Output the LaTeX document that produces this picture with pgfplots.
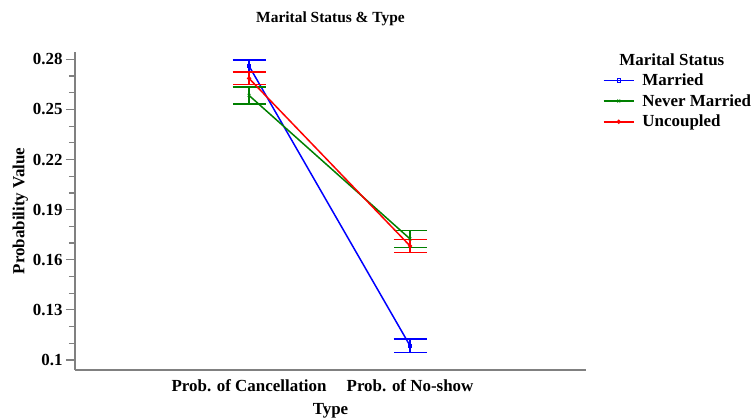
\documentclass[border=0pt]{standalone}
\usepackage{pgfplots}
\pgfplotsset{compat=1.18}
\usepackage{fontspec}
\setmainfont{Liberation Serif}

\definecolor{cBlue}{RGB}{0,0,255}
\definecolor{cGreen}{RGB}{0,128,0}
\definecolor{cRed}{RGB}{255,0,0}
\definecolor{axisgray}{RGB}{128,128,128}

\newcommand{\lab}{\fontsize{17}{20}\selectfont\bfseries}

\begin{document}
\begin{tikzpicture}
\useasboundingbox (0,0) rectangle (756bp,420bp);
\begin{axis}[
  at={(75bp,50bp)}, anchor=south west,
  scale only axis, width=511bp, height=318bp,
  xmin=-1.081, xmax=2.093,
  ymin=0.094, ymax=0.2844,
  axis x line*=bottom, axis y line*=left,
  axis line style={axisgray, line width=1.2bp, -},
  xtick={0,1},
  xticklabels={Prob. of Cancellation, Prob. of No-show},
  x tick style={draw=none},
  ytick={0.1,0.13,0.16,0.19,0.22,0.25,0.28},
  minor y tick num=2,
  y tick style={axisgray, line width=1.2bp},
  tick align=outside,
  major tick length=9bp, minor tick length=6bp,
  yticklabel style={/pgf/number format/fixed, /pgf/number format/precision=2},
  /pgf/number format/assume math mode=true,
  tick label style={font=\lab, text=black},
  xticklabel style={anchor=center, yshift=-7bp},
  ylabel={Probability Value}, xlabel={Type},
  every axis y label/.style={at={(axis description cs:-0.107,0.5)}, rotate=90, anchor=center, font=\lab},
  every axis x label/.style={at={(axis description cs:0.5,-0.128)}, anchor=center, font=\lab},
  title={Marital Status \& Type},
  title style={font=\fontsize{15.5}{18}\selectfont\bfseries, at={(axis description cs:0.5,1)}, anchor=center, yshift=27bp},
  clip=false,
  legend style={at={(axis description cs:1.027,0.945)}, anchor=north west, draw=none, fill=none, font=\lab, row sep=3.5bp},
  legend cell align=left,
  legend image code/.code={\draw[#1, mark repeat=2, mark phase=2] plot coordinates {(0bp,0bp) (15bp,0bp) (30bp,0bp)};
    \path (36bp,0bp);},
  error bars/y dir=both, error bars/y explicit,
  error bars/error mark options={mark size=16.5bp, line width=1.5bp, rotate=90},
]

% Married
\addplot[cBlue, line width=1.5bp, mark=square, mark size=1.8bp, mark options={solid, line width=0.8bp},
  error bars/error bar style={cBlue, line width=1.5bp}]
  table[x=x, y=y, y error=e] {
x y e
0 0.2760 0.0036
1 0.1085 0.0041
};
\addlegendentry{Married}

% Never Married
\addplot[cGreen, line width=1.5bp, mark=x, mark size=2bp, mark options={solid, line width=0.8bp},
  error bars/error bar style={cGreen, line width=1.5bp}]
  table[x=x, y=y, y error=e] {
x y e
0 0.2584 0.0050
1 0.1725 0.0051
};
\addlegendentry{Never Married}

% Uncoupled
\addplot[cRed, line width=1.5bp, mark=o, mark size=1.8bp, mark options={solid, line width=0.8bp},
  error bars/error bar style={cRed, line width=1.5bp}]
  table[x=x, y=y, y error=e] {
x y e
0 0.2686 0.0038
1 0.1683 0.0039
};
\addlegendentry{Uncoupled}

\node[font=\lab, anchor=center] at (axis description cs:1.168,0.975) {Marital Status};
\end{axis}
\end{tikzpicture}
\end{document}
